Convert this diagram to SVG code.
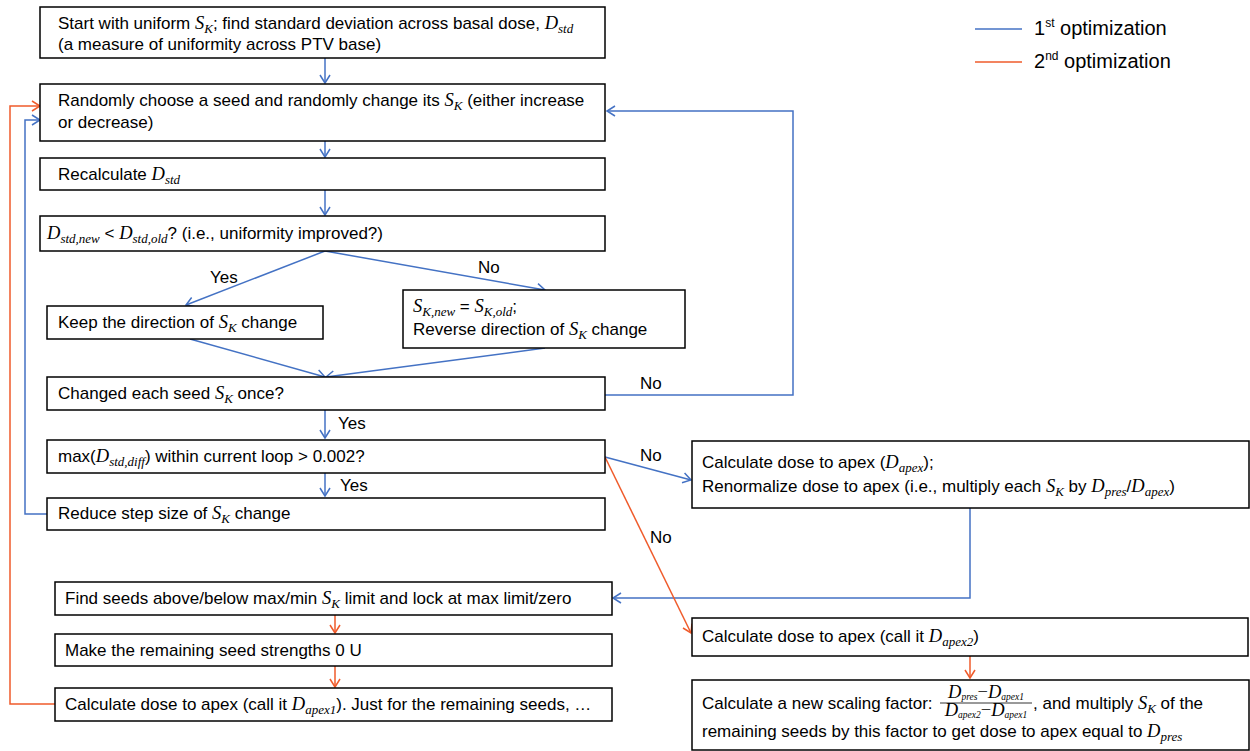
<svg xmlns="http://www.w3.org/2000/svg" width="1250" height="751" viewBox="0 0 1250 751">
<defs>
<style>
.box{fill:#fff;stroke:#000;stroke-width:1.5}
.t{font-family:"Liberation Sans",Arial,sans-serif;font-size:17px;fill:#000}
.m{font-family:"Liberation Serif","Times New Roman",serif;font-style:italic;font-size:18.5px}
.s{font-size:13px}
.b{fill:none;stroke:#4472C4;stroke-width:1.5}
.o{fill:none;stroke:#EF5B2B;stroke-width:1.5}
.lg{font-family:"Liberation Sans",Arial,sans-serif;font-size:20px;fill:#000}
</style>
<marker id="ab" viewBox="-10 -6 12 12" refX="0" refY="0" markerWidth="12" markerHeight="12" markerUnits="userSpaceOnUse" orient="auto"><path d="M-8,-5 L0,0 L-8,5" fill="none" stroke="#4472C4" stroke-width="1.5"/></marker>
<marker id="ao" viewBox="-10 -6 12 12" refX="0" refY="0" markerWidth="12" markerHeight="12" markerUnits="userSpaceOnUse" orient="auto"><path d="M-8,-5 L0,0 L-8,5" fill="none" stroke="#EF5B2B" stroke-width="1.5"/></marker>
</defs>
<rect width="1250" height="751" fill="#fff"/>

<g id="connectors">
<path class="b" d="M325,58 V83" marker-end="url(#ab)"/>
<path class="b" d="M325,141 V157" marker-end="url(#ab)"/>
<path class="b" d="M325,190 V215" marker-end="url(#ab)"/>
<path class="b" d="M325,251 L186,305" marker-end="url(#ab)"/>
<path class="b" d="M325,251 L545,290" marker-end="url(#ab)"/>
<path class="b" d="M190,339 L325,377" marker-end="url(#ab)"/>
<path class="b" d="M545,348 L326,377" marker-end="url(#ab)"/>
<path class="b" d="M605,395 H793 V111 H607" marker-end="url(#ab)"/>
<path class="b" d="M325,410 V438" marker-end="url(#ab)"/>
<path class="b" d="M325,473 V496" marker-end="url(#ab)"/>
<path class="b" d="M47,514 H25 V120 H40" marker-end="url(#ab)"/>
<path class="b" d="M605,457 L691,480" marker-end="url(#ab)"/>
<path class="b" d="M970,508 V598 H613" marker-end="url(#ab)"/>
<path class="o" d="M605,457 L691,633" marker-end="url(#ao)"/>
<path class="o" d="M335,615 V633" marker-end="url(#ao)"/>
<path class="o" d="M335,666 V687" marker-end="url(#ao)"/>
<path class="o" d="M55,704 H10 V106 H40" marker-end="url(#ao)"/>
<path class="o" d="M970,656 V678" marker-end="url(#ao)"/>
<g class="t">
<text x="210" y="283">Yes</text>
<text x="478" y="273">No</text>
<text x="640" y="389">No</text>
<text x="338" y="429">Yes</text>
<text x="340" y="491">Yes</text>
<text x="640" y="461">No</text>
<text x="650" y="543">No</text>
</g>
</g>

<g id="legend">
<line x1="975" y1="29" x2="1022" y2="29" stroke="#4472C4" stroke-width="1.5"/>
<text class="lg" x="1034" y="35">1<tspan font-size="12" dy="-8">st</tspan><tspan dy="8">  optimization</tspan></text>
<line x1="975" y1="62" x2="1022" y2="62" stroke="#EF5B2B" stroke-width="1.5"/>
<text class="lg" x="1034" y="68">2<tspan font-size="12" dy="-8">nd</tspan><tspan dy="8"> optimization</tspan></text>
</g>

<g id="n1">
<rect class="box" x="40" y="7" width="565" height="51"/>
<text class="t" x="58" y="29">Start with uniform <tspan class="m">S</tspan><tspan class="m s" dy="4">K</tspan><tspan dy="-4">; find standard deviation across basal dose, </tspan><tspan class="m">D</tspan><tspan class="m s" dy="4">std</tspan></text>
<text class="t" x="58" y="50">(a measure of uniformity across PTV base)</text>
</g>

<g id="n2">
<rect class="box" x="40" y="84" width="565" height="57"/>
<text class="t" x="58" y="106">Randomly choose a seed and randomly change its <tspan class="m">S</tspan><tspan class="m s" dy="4">K</tspan><tspan dy="-4"> (either increase</tspan></text>
<text class="t" x="58" y="128">or decrease)</text>
</g>

<g id="n3">
<rect class="box" x="40" y="158" width="565" height="32"/>
<text class="t" x="58" y="180">Recalculate <tspan class="m">D</tspan><tspan class="m s" dy="4">std</tspan></text>
</g>

<g id="n4">
<rect class="box" x="40" y="216" width="565" height="35"/>
<text class="t" x="47" y="239"><tspan class="m">D</tspan><tspan class="m s" dy="4">std,new</tspan><tspan dy="-4"> &lt; </tspan><tspan class="m">D</tspan><tspan class="m s" dy="4">std,old</tspan><tspan dy="-4">? (i.e., uniformity improved?)</tspan></text>
</g>

<g id="n5">
<rect class="box" x="47" y="306" width="276" height="33"/>
<text class="t" x="58" y="328">Keep the direction of <tspan class="m">S</tspan><tspan class="m s" dy="4">K</tspan><tspan dy="-4"> change</tspan></text>
</g>

<g id="n6">
<rect class="box" x="403" y="290" width="282" height="58"/>
<text class="t" x="413" y="312"><tspan class="m">S</tspan><tspan class="m s" dy="4">K,new</tspan><tspan dy="-4"> = </tspan><tspan class="m">S</tspan><tspan class="m s" dy="4">K,old</tspan><tspan dy="-4">;</tspan></text>
<text class="t" x="413" y="335">Reverse direction of <tspan class="m">S</tspan><tspan class="m s" dy="4">K</tspan><tspan dy="-4"> change</tspan></text>
</g>

<g id="n7">
<rect class="box" x="47" y="377" width="558" height="33"/>
<text class="t" x="58" y="399">Changed each seed <tspan class="m">S</tspan><tspan class="m s" dy="4">K</tspan><tspan dy="-4"> once?</tspan></text>
</g>

<g id="n8">
<rect class="box" x="47" y="440" width="558" height="33"/>
<text class="t" x="58" y="462">max(<tspan class="m">D</tspan><tspan class="m s" dy="4">std,diff</tspan><tspan dy="-4">) within current loop &gt; 0.002?</tspan></text>
</g>

<g id="n9">
<rect class="box" x="47" y="498" width="558" height="32"/>
<text class="t" x="58" y="519">Reduce step size of <tspan class="m">S</tspan><tspan class="m s" dy="4">K</tspan><tspan dy="-4"> change</tspan></text>
</g>

<g id="n10">
<rect class="box" x="692" y="441" width="557" height="67"/>
<text class="t" x="702" y="468">Calculate dose to apex (<tspan class="m">D</tspan><tspan class="m s" dy="4">apex</tspan><tspan dy="-4">);</tspan></text>
<text class="t" x="702" y="492">Renormalize dose to apex (i.e., multiply each <tspan class="m">S</tspan><tspan class="m s" dy="4">K</tspan><tspan dy="-4"> by </tspan><tspan class="m">D</tspan><tspan class="m s" dy="4">pres</tspan><tspan dy="-4">/</tspan><tspan class="m">D</tspan><tspan class="m s" dy="4">apex</tspan><tspan dy="-4">)</tspan></text>
</g>

<g id="n11">
<rect class="box" x="55" y="582" width="557" height="33"/>
<text class="t" x="65" y="604">Find seeds above/below max/min <tspan class="m">S</tspan><tspan class="m s" dy="4">K</tspan><tspan dy="-4"> limit and lock at max limit/zero</tspan></text>
</g>

<g id="n12">
<rect class="box" x="55" y="634" width="557" height="32"/>
<text class="t" x="65" y="656">Make the remaining seed strengths 0 U</text>
</g>

<g id="n13">
<rect class="box" x="55" y="688" width="557" height="33"/>
<text class="t" x="65" y="710">Calculate dose to apex (call it <tspan class="m">D</tspan><tspan class="m s" dy="4">apex1</tspan><tspan dy="-4">). Just for the remaining seeds, …</tspan></text>
</g>

<g id="n14">
<rect class="box" x="692" y="618" width="556" height="38"/>
<text class="t" x="702" y="642">Calculate dose to apex (call it <tspan class="m">D</tspan><tspan class="m s" dy="4">apex2</tspan><tspan dy="-4">)</tspan></text>
</g>

<g id="n15">
<rect class="box" x="692" y="680" width="557" height="70"/>
<text class="t" x="702" y="709">Calculate a new scaling factor: </text>
<text class="m" x="986" y="698" font-size="13" text-anchor="middle">D<tspan font-size="9.5" dy="2">pres</tspan><tspan dy="-2" font-style="normal">−</tspan>D<tspan font-size="9.5" dy="2">apex1</tspan></text>
<line x1="940" y1="703" x2="1032" y2="703" stroke="#000" stroke-width="0.8"/>
<text class="m" x="986" y="716" font-size="13" text-anchor="middle">D<tspan font-size="9.5" dy="2">apex2</tspan><tspan dy="-2" font-style="normal">−</tspan>D<tspan font-size="9.5" dy="2">apex1</tspan></text>
<text class="t" x="1033" y="709">, and multiply <tspan class="m">S</tspan><tspan class="m s" dy="4">K</tspan><tspan dy="-4"> of the</tspan></text>
<text class="t" x="702" y="737">remaining seeds by this factor to get dose to apex equal to <tspan class="m">D</tspan><tspan class="m s" dy="4">pres</tspan></text>
</g>
</svg>
